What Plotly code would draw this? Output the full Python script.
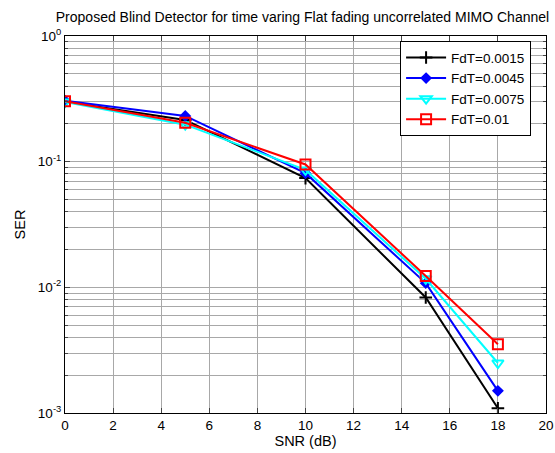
import plotly.graph_objects as go

snr = [0, 5, 10, 15, 18]
ser_0015 = [0.300, 0.215, 0.074, 0.0083, 0.00109]
ser_0045 = [0.305, 0.231, 0.081, 0.0108, 0.0015]
ser_0075 = [0.298, 0.197, 0.086, 0.0117, 0.0025]
ser_01 = [0.302, 0.204, 0.095, 0.0123, 0.00353]
names = ["FdT=0.0015", "FdT=0.0045", "FdT=0.0075", "FdT=0.01"]
xticks = list(range(0, 21, 2))
yticks = [1e-3, 1e-2, 1e-1, 1]
yticklabels = ["10<sup>-3</sup>", "10<sup>-2</sup>", "10<sup>-1</sup>", "10<sup>0</sup>"]

fig = go.Figure()
styles = [
    dict(color="black", symbol="cross-thin", size=9),
    dict(color="blue", symbol="diamond", size=7),
    dict(color="cyan", symbol="triangle-down-open", size=10),
    dict(color="red", symbol="square-open", size=10),
]
for name, ys, st in zip(names, [ser_0015, ser_0045, ser_0075, ser_01], styles):
    fig.add_trace(go.Scatter(
        x=snr, y=ys, name=name, mode="lines+markers",
        line=dict(color=st["color"], width=2),
        marker=dict(symbol=st["symbol"], size=st["size"], color=st["color"],
                    line=dict(color=st["color"], width=2)),
    ))

minor_vals = [m * 10 ** e for e in (-3, -2, -1) for m in range(2, 10)]
grid = "#a8a8a8"
fig.update_layout(
    width=555, height=453,
    margin=dict(l=65, r=9, t=36, b=40),
    paper_bgcolor="white", plot_bgcolor="white",
    font=dict(family="Liberation Sans, Arial", size=13.5, color="black"),
    title=dict(text="Proposed Blind Detector for time varing Flat fading uncorrelated MIMO Channel",
               x=0.545, xanchor="center", y=0.962, yanchor="middle",
               font=dict(size=14)),
    xaxis=dict(range=[0, 20], tickvals=xticks, ticks="inside", ticklen=5,
               showline=True, linecolor="black", linewidth=1, mirror="ticks",
               showgrid=True, gridcolor=grid, gridwidth=1, automargin=False,
               zeroline=False, title=dict(text="SNR (dB)", standoff=3, font=dict(size=14.5))),
    yaxis=dict(type="log", range=[-3, 0], tickvals=yticks, ticktext=yticklabels,
               ticks="inside", ticklen=5, automargin=False,
               showline=True, linecolor="black", linewidth=1, mirror="ticks",
               showgrid=True, gridcolor=grid, gridwidth=1,
               minor=dict(tickvals=minor_vals, ticks="inside", ticklen=3,
                          showgrid=True, gridcolor=grid, gridwidth=1),
               zeroline=False, title=dict(text="SER", standoff=8, font=dict(size=14.5))),
    legend=dict(x=0.969, y=0.986, xanchor="right", yanchor="top",
                bgcolor="white", bordercolor="black", borderwidth=1,
                font=dict(size=13.5), itemwidth=40, tracegroupgap=0),
    showlegend=True,
)
fig.write_html("out.html", config={"displayModeBar": False},
               post_script="document.body.style.margin='0';document.body.style.padding='0';")
